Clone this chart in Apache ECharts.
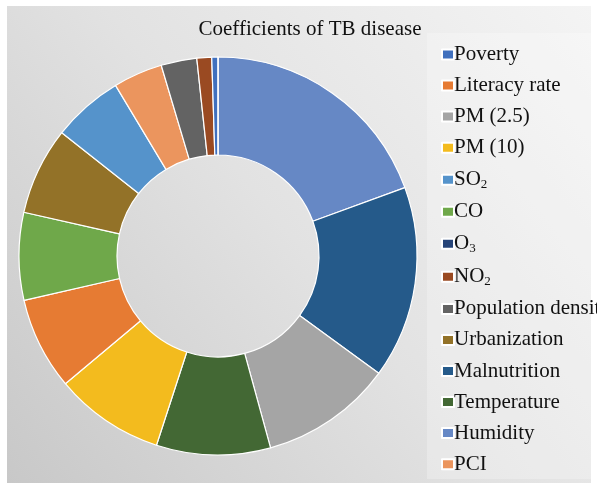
<!DOCTYPE html>
<html>
<head>
<meta charset="utf-8">
<script src="https://cdn.jsdelivr.net/npm/echarts@6/dist/echarts.min.js"></script>
<style>
  html, body { margin: 0; padding: 0; background: #ffffff; }
  #chart { width: 597px; height: 486px; }
</style>
</head>
<body>
<div id="chart"></div>
<script>
// Slice order, clockwise from 12 o'clock
const sliceNames = ['Humidity', 'Malnutrition', 'PM (2.5)', 'Temperature', 'PM (10)', 'Literacy rate',
  'CO', 'Urbanization', 'SO2', 'PCI', 'Population density', 'NO2', 'Poverty', 'O3'];
const sliceValues = [19.4, 15.6, 10.7, 9.25, 8.9, 7.5, 7.1, 7.1, 5.75, 4.0, 2.9, 1.2, 0.5, 0];

// Legend order
const legendOrder = ['Poverty', 'Literacy rate', 'PM (2.5)', 'PM (10)', 'SO2', 'CO', 'O3', 'NO2',
  'Population density', 'Urbanization', 'Malnutrition', 'Temperature', 'Humidity', 'PCI'];

const colorByName = {
  'Poverty': '#4070BE', 'Literacy rate': '#E67B33', 'PM (2.5)': '#A5A5A5', 'PM (10)': '#F3BB1E',
  'SO2': '#5593CB', 'CO': '#6FA84A', 'O3': '#264478', 'NO2': '#9A4A22',
  'Population density': '#636363', 'Urbanization': '#937228', 'Malnutrition': '#255A8A',
  'Temperature': '#436834', 'Humidity': '#6688C5', 'PCI': '#EB955E'
};

const titleText = 'Coefficients of TB disease';

const chart = echarts.init(document.getElementById('chart'), null, { renderer: 'canvas' });

const serif = '"Liberation Serif", "Times New Roman", serif';

// Chemical formulas get a lowered digit
function legendLabel(name) {
  const m = name.match(/^([A-Z]+)(\d)$/);
  if (m) return '{t|' + m[1] + '}{s|' + m[2] + '}';
  return '{t|' + name + '}';
}

chart.setOption({
  animation: false,
  graphic: [
    {
      type: 'rect', z: -10,
      shape: { x: 7, y: 6, width: 584, height: 477 },
      style: {
        fill: new echarts.graphic.LinearGradient(1, 0, 0, 1, [
          { offset: 0, color: '#f4f4f4' },
          { offset: 0.5, color: '#e2e2e2' },
          { offset: 1, color: '#c8c8c8' }
        ])
      }
    },
    {
      type: 'rect', z: -9,
      shape: { x: 427, y: 33, width: 164, height: 446 },
      style: { fill: 'rgba(255,255,255,0.25)' }
    }
  ],
  title: {
    text: titleText,
    left: 305, top: 14, textAlign: 'center',
    textStyle: { fontFamily: serif, fontSize: 21, fontWeight: 'normal', color: '#111' }
  },
  legend: {
    orient: 'vertical',
    left: 441, top: 44,
    padding: 0,
    height: 440,
    itemWidth: 12, itemHeight: 10,
    itemGap: 10.05,
    icon: 'rect',
    selectedMode: false,
    data: legendOrder,
    formatter: legendLabel,
    textStyle: {
      fontFamily: serif, fontSize: 21, color: '#111', padding: [0, 0, 0, -5],
      rich: {
        t: { fontFamily: serif, fontSize: 21, color: '#111', lineHeight: 20 },
        s: { fontFamily: serif, fontSize: 13, color: '#111', lineHeight: 10, padding: [10, 0, 0, 0] }
      }
    }
  },
  series: [{
    type: 'pie',
    center: [218, 256],
    radius: [101, 199],
    startAngle: 90,
    clockwise: true,
    avoidLabelOverlap: false,
    label: { show: false },
    labelLine: { show: false },
    emphasis: { disabled: true },
    itemStyle: { borderColor: '#ffffff', borderWidth: 1.2 },
    data: sliceNames.map((n, i) => ({
      name: n, value: sliceValues[i], itemStyle: { color: colorByName[n] }
    }))
  }]
});
</script>
</body>
</html>
